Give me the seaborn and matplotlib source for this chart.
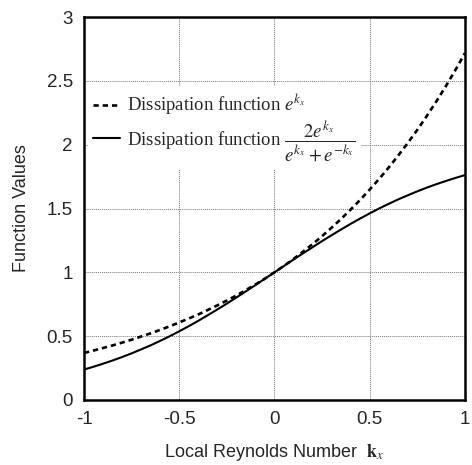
import numpy as np
import pandas as pd
import matplotlib
matplotlib.use("Agg")
import matplotlib.pyplot as plt
import seaborn as sns
from matplotlib.ticker import MultipleLocator

# Local Reynolds number samples
k_x = [-1.0, -0.95, -0.9, -0.85, -0.8, -0.75, -0.7, -0.65, -0.6, -0.55, -0.5,
       -0.45, -0.4, -0.35, -0.3, -0.25, -0.2, -0.15, -0.1, -0.05, 0.0,
       0.05, 0.1, 0.15, 0.2, 0.25, 0.3, 0.35, 0.4, 0.45, 0.5,
       0.55, 0.6, 0.65, 0.7, 0.75, 0.8, 0.85, 0.9, 0.95, 1.0]
# Dissipation function e^{k_x}
diss_exp = [0.368, 0.387, 0.407, 0.427, 0.449, 0.472, 0.497, 0.522, 0.549, 0.577, 0.607,
            0.638, 0.670, 0.705, 0.741, 0.779, 0.819, 0.861, 0.905, 0.951, 1.000,
            1.051, 1.105, 1.162, 1.221, 1.284, 1.350, 1.419, 1.492, 1.568, 1.649,
            1.733, 1.822, 1.916, 2.014, 2.117, 2.226, 2.340, 2.460, 2.586, 2.718]
# Dissipation function 2e^{k_x}/(e^{k_x}+e^{-k_x})
diss_ratio = [0.238, 0.260, 0.284, 0.309, 0.336, 0.365, 0.396, 0.428, 0.463, 0.499, 0.538,
              0.578, 0.620, 0.664, 0.709, 0.755, 0.803, 0.851, 0.900, 0.950, 1.000,
              1.050, 1.100, 1.149, 1.197, 1.245, 1.291, 1.336, 1.380, 1.422, 1.462,
              1.501, 1.537, 1.572, 1.604, 1.635, 1.664, 1.691, 1.716, 1.740, 1.762]

x_ticks = [-1, -0.5, 0, 0.5, 1]
x_tick_labels = ["-1", "-0.5", "0", "0.5", "1"]
y_ticks = [0, 0.5, 1, 1.5, 2, 2.5, 3]
y_tick_labels = ["0", "0.5", "1", "1.5", "2", "2.5", "3"]

label_exp = r"Dissipation function $e^{k_x}$"
label_ratio = r"Dissipation function $\dfrac{2e^{k_x}}{e^{k_x}+e^{-k_x}}$"

df = pd.DataFrame({"k": k_x, "exp": diss_exp, "ratio": diss_ratio})

sns.set_style("white")
plt.rcParams["font.family"] = ["Liberation Sans", "DejaVu Sans"]
plt.rcParams["mathtext.fontset"] = "stix"

fig = plt.figure(figsize=(4.72, 4.65), dpi=100)
ax = fig.add_axes([0.178, 0.140, 0.807, 0.823])

sns.lineplot(data=df, x="k", y="exp", ax=ax, color="black", lw=1.9,
             linestyle=(0, (2.0, 1.5)), label=label_exp)
sns.lineplot(data=df, x="k", y="ratio", ax=ax, color="black", lw=1.5,
             linestyle="-", label=label_ratio)

ax.set_xlim(-1, 1)
ax.set_ylim(0, 3)
ax.set_xticks(x_ticks)
ax.set_xticklabels(x_tick_labels)
ax.set_yticks(y_ticks)
ax.set_yticklabels(y_tick_labels)
ax.xaxis.set_minor_locator(MultipleLocator(0.1))
ax.yaxis.set_minor_locator(MultipleLocator(0.1))
ax.tick_params(axis="both", which="major", direction="in", length=6, width=1.2,
               labelsize=13.5, pad=8, color="black")
ax.tick_params(axis="both", which="minor", direction="in", length=4, width=1.0,
               color="black")

ax.grid(True, which="major", color="#777777", linestyle=(0, (1, 1)), lw=0.7)
ax.set_axisbelow(True)
for s in ax.spines.values():
    s.set_visible(True)
    s.set_color("black")
    s.set_linewidth(1.8)

ax.set_xlabel(r"Local Reynolds Number  $\mathbf{k}_x$", fontsize=13, labelpad=10)
ax.set_ylabel("Function Values", fontsize=13, labelpad=12)

leg = ax.legend(loc="upper left", bbox_to_anchor=(0.0, 0.83), frameon=True,
                facecolor="white", edgecolor="white", framealpha=1.0,
                handlelength=1.4, handletextpad=0.4, borderpad=0.3,
                labelspacing=0.05, borderaxespad=0.2,
                prop={"family": "Liberation Serif", "size": 13.5})
leg.get_frame().set_linewidth(0)

fig.savefig("out.png", dpi=100)
